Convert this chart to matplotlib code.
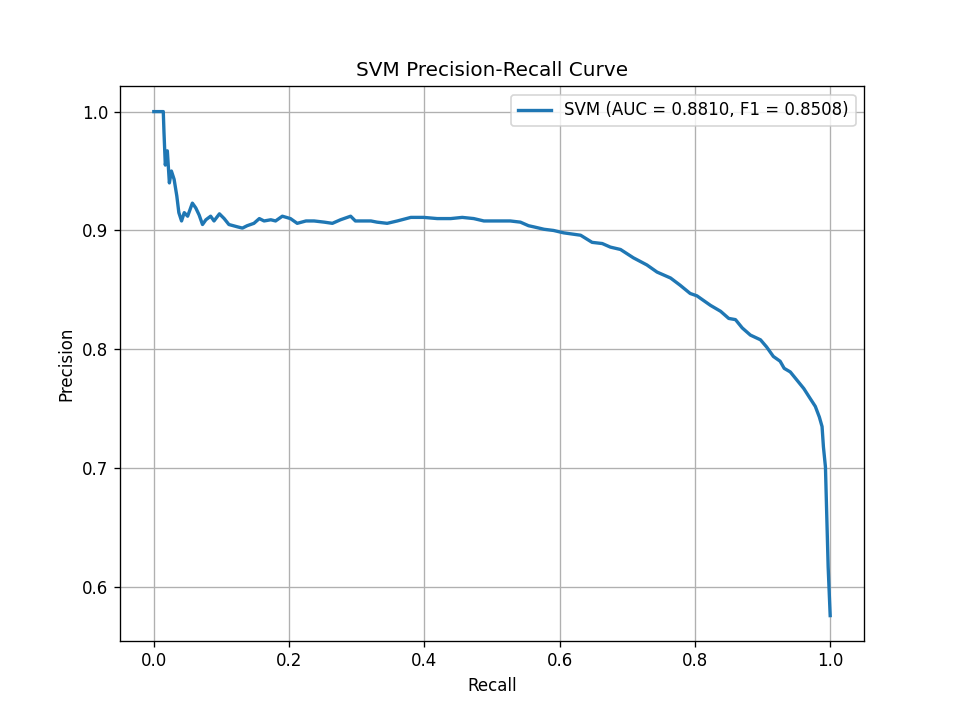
import matplotlib
matplotlib.use("Agg")
import matplotlib.pyplot as plt

# values
recall = [0.000, 0.014, 0.015, 0.017, 0.020, 0.023, 0.026, 0.030, 0.034, 0.037,
          0.041, 0.045, 0.050, 0.057, 0.062, 0.067, 0.072, 0.077, 0.084, 0.089,
          0.097, 0.104, 0.111, 0.124, 0.131, 0.138, 0.148, 0.156, 0.163, 0.173,
          0.180, 0.190, 0.202, 0.212, 0.225, 0.237, 0.252, 0.264, 0.276, 0.291,
          0.298, 0.321, 0.330, 0.345, 0.360, 0.380, 0.399, 0.419, 0.439, 0.456,
          0.473, 0.488, 0.508, 0.527, 0.542, 0.554, 0.562, 0.577, 0.591, 0.606,
          0.631, 0.648, 0.663, 0.675, 0.690, 0.709, 0.729, 0.744, 0.764, 0.778,
          0.793, 0.803, 0.823, 0.838, 0.850, 0.860, 0.870, 0.882, 0.897, 0.906,
          0.916, 0.926, 0.932, 0.941, 0.951, 0.961, 0.970, 0.978, 0.984, 0.988,
          0.990, 0.993, 0.995, 0.997, 1.000]
precision = [1.000, 1.000, 0.983, 0.955, 0.967, 0.940, 0.950, 0.943, 0.929, 0.915,
             0.908, 0.915, 0.912, 0.923, 0.919, 0.913, 0.905, 0.909, 0.912, 0.908,
             0.914, 0.910, 0.905, 0.903, 0.902, 0.904, 0.906, 0.910, 0.908, 0.909,
             0.908, 0.912, 0.910, 0.906, 0.908, 0.908, 0.907, 0.906, 0.909, 0.912,
             0.908, 0.908, 0.907, 0.906, 0.908, 0.911, 0.911, 0.910, 0.910, 0.911,
             0.910, 0.908, 0.908, 0.908, 0.907, 0.904, 0.903, 0.901, 0.900, 0.898,
             0.896, 0.890, 0.889, 0.886, 0.884, 0.877, 0.871, 0.865, 0.860, 0.854,
             0.847, 0.845, 0.837, 0.832, 0.826, 0.825, 0.818, 0.812, 0.808, 0.802,
             0.794, 0.790, 0.784, 0.781, 0.774, 0.767, 0.759, 0.752, 0.743, 0.735,
             0.718, 0.701, 0.659, 0.617, 0.576]
auc_val = 0.8810
f1_val = 0.8508

fig, ax = plt.subplots(figsize=(8, 6), dpi=120)
ax.plot(recall, precision, color="#1f77b4", linewidth=2,
        label=f"SVM (AUC = {auc_val:.4f}, F1 = {f1_val:.4f})")
ax.set_xlabel("Recall")
ax.set_ylabel("Precision")
ax.set_title("SVM Precision-Recall Curve")
ax.legend(loc="upper right")
ax.grid(True)
fig.savefig("out.png", dpi=120)
